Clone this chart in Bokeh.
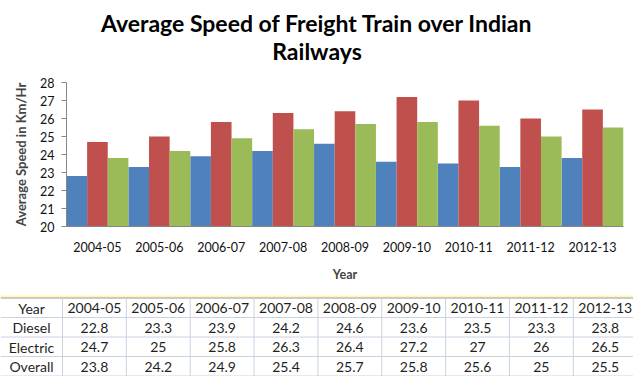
from bokeh.plotting import figure
from bokeh.models import Range1d, FactorRange, ColumnDataSource
from bokeh.transform import dodge
from bokeh.layouts import column
from bokeh.embed import file_html
from bokeh.resources import INLINE
from bokeh.core.properties import value

years = ["2004-05", "2005-06", "2006-07", "2007-08", "2008-09",
         "2009-10", "2010-11", "2011-12", "2012-13"]
diesel = [22.8, 23.3, 23.9, 24.2, 24.6, 23.6, 23.5, 23.3, 23.8]
electric = [24.7, 25, 25.8, 26.3, 26.4, 27.2, 27, 26, 26.5]
overall = [23.8, 24.2, 24.9, 25.4, 25.7, 25.8, 25.6, 25, 25.5]
series_names = ["Diesel", "Electric", "Overall"]
series_values = [diesel, electric, overall]
colors = ["#4F81BD", "#C0504D", "#9BBB59"]
title_lines = ["Average Speed of Freight Train over Indian", "Railways"]
y_ticks = [20, 21, 22, 23, 24, 25, 26, 27, 28]

FONT = "Lato"
W = 633


def blank_fig(h):
    f = figure(width=W, height=h, x_range=Range1d(0, W), y_range=Range1d(h, 0),
               output_backend="svg", toolbar_location=None,
               x_axis_type=None, y_axis_type=None, frame_align=False,
               min_border=0, min_border_left=0, min_border_right=0,
               min_border_top=0, min_border_bottom=0)
    f.grid.visible = False
    f.outline_line_color = None
    f.border_fill_color = "white"
    f.background_fill_color = "white"
    return f


# ---- title ----
TTL_H = 68
tf = blank_fig(TTL_H)
tf.text(x=[W / 2] * 2, y=[22, 50], text=title_lines, text_align="center",
        text_baseline="middle", text_font=value(FONT), text_font_size="23px",
        text_font_style="bold", text_color="#000000")

# ---- chart ----
src = ColumnDataSource(dict(years=years, Diesel=diesel, Electric=electric, Overall=overall))

p = figure(width=W, height=222, x_range=FactorRange(*years), y_range=Range1d(20, 28),
           output_backend="svg", toolbar_location=None, title=None, frame_align=False,
           min_border_left=66, min_border_right=10, min_border_top=14, min_border_bottom=64)
p.outline_line_color = None
p.xgrid.grid_line_color = None
p.ygrid.grid_line_color = None
p.background_fill_color = "white"
p.border_fill_color = "white"

offsets = [-1 / 3, 0, 1 / 3]
for name, off, col in zip(series_names, offsets, colors):
    p.vbar(x=dodge("years", off, range=p.x_range), top=name, bottom=20, width=1 / 3,
           source=src, fill_color=col, line_color=None)

p.yaxis.ticker = y_ticks
p.yaxis.axis_line_color = "#868686"
p.yaxis.major_tick_line_color = "#868686"
p.yaxis.major_tick_out = 5
p.yaxis.major_tick_in = 0
p.yaxis.minor_tick_line_color = None
p.yaxis.major_label_text_font = FONT
p.yaxis.major_label_text_font_size = "12.5px"
p.yaxis.major_label_text_color = "#111111"
p.yaxis.major_label_standoff = 7
p.yaxis.axis_label = "Average Speed in Km/Hr"
p.yaxis.axis_label_text_font = FONT
p.yaxis.axis_label_text_font_size = "13px"
p.yaxis.axis_label_text_font_style = "bold"
p.yaxis.axis_label_standoff = 8

p.xaxis.axis_line_color = "#868686"
p.xaxis.major_tick_line_color = None
p.xaxis.minor_tick_line_color = None
p.xaxis.major_label_text_font = FONT
p.xaxis.major_label_text_font_size = "12.5px"
p.xaxis.major_label_text_color = "#111111"
p.xaxis.major_label_standoff = 9
p.xaxis.axis_label = "Year"
p.xaxis.axis_label_text_font = FONT
p.xaxis.axis_label_text_font_size = "12.5px"
p.xaxis.axis_label_text_font_style = "bold"
p.xaxis.axis_label_standoff = 12

# ---- data table below the chart ----
TH = 86
t = blank_fig(TH)

first_w = 62
col_w = 63.85
row_h = 19.5
top = 7.5
rows = [["Year"] + years] + [[n] + [f"{v:g}" for v in vals]
                             for n, vals in zip(series_names, series_values)]

hy = [top + i * row_h for i in range(1, len(rows) + 1)]
t.segment(x0=[0] * len(hy), x1=[W] * len(hy), y0=hy, y1=hy,
          line_color="#CAD3E3", line_width=1)
t.segment(x0=[0], x1=[W], y0=[top - 1.5], y1=[top - 1.5], line_color="#FFF6B0", line_width=2)
t.segment(x0=[0], x1=[W], y0=[top], y1=[top], line_color="#9A9A9A", line_width=1)
vx = [first_w + i * col_w for i in range(len(years))]
t.segment(x0=vx, x1=vx, y0=[top] * len(vx), y1=[TH] * len(vx),
          line_color="#CAD3E3", line_width=1)

tx, ty, tt = [], [], []
centers = [first_w / 2] + [first_w + (i + 0.5) * col_w for i in range(len(years))]
for r, row in enumerate(rows):
    for c, cell in enumerate(row):
        tx.append(centers[c])
        ty.append(top + (r + 0.5) * row_h + 0.5)
        tt.append(cell)
t.text(x=tx, y=ty, text=tt, text_align="center", text_baseline="middle",
       text_font=value(FONT), text_font_size="14px", text_color="#1F1F1F")

layout = column(tf, p, t, spacing=0)
open("out.html", "w").write(file_html(layout, INLINE))
